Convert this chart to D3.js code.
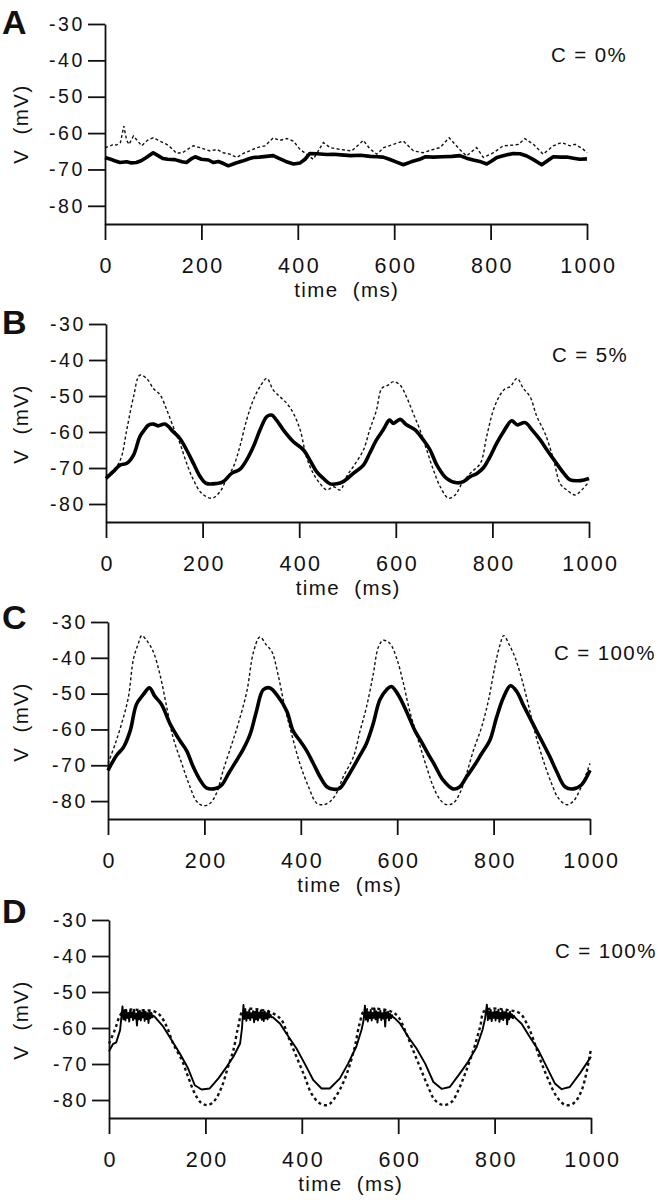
<!DOCTYPE html>
<html><head><meta charset="utf-8">
<script src="https://cdn.jsdelivr.net/npm/d3@7"></script>
<style>
body{margin:0;background:#fff}
svg{display:block}
text{font-family:"Liberation Sans",Arial,Helvetica,sans-serif;fill:#111}
</style>
</head><body>
<svg id="chart" width="660" height="1200"></svg>
<script>
// ---------- labels / ticks ----------
const panelLetters = ["A", "B", "C", "D"];
const contrastLabels = ["C = 0%", "C = 5%", "C = 100%", "C = 100%"];
const xTicks = [0, 200, 400, 600, 800, 1000];
const yTicks = [-30, -40, -50, -60, -70, -80];
const xLabel = "time\u00a0 (ms)";
const yLabel = "V\u00a0 (mV)";

// ---------- data: [time ms, V mV] ----------
const aSolid = [[0,-66.7],[10,-67.1],[20,-67.6],[31,-68.1],[45,-67.9],[55,-68.2],[65,-68.1],[75,-67.6],[85,-66.8],[100,-65.4],[110,-66.2],[120,-67.0],[130,-67.2],[145,-67.3],[160,-67.9],[169,-68.1],[180,-67.0],[187,-66.5],[200,-67.2],[215,-67.4],[225,-68.1],[235,-67.8],[245,-68.3],[256,-69.0],[270,-68.3],[285,-67.7],[300,-67.0],[308,-66.7],[320,-66.6],[335,-66.4],[349,-66.2],[360,-66.9],[375,-67.8],[391,-68.5],[405,-68.2],[415,-67.2],[425,-65.6],[440,-65.7],[460,-65.9],[474,-65.8],[490,-66.0],[510,-66.2],[530,-66.1],[550,-66.4],[565,-66.5],[577,-66.6],[590,-67.2],[605,-68.0],[619,-68.7],[635,-67.9],[653,-67.2],[665,-66.5],[681,-66.6],[700,-66.5],[720,-66.4],[736,-66.2],[750,-66.9],[764,-67.4],[780,-67.9],[792,-68.5],[803,-67.6],[813,-66.7],[830,-66.1],[847,-65.6],[861,-65.7],[875,-66.3],[889,-67.3],[906,-68.7],[918,-67.6],[930,-66.5],[945,-66.6],[958,-66.6],[972,-66.9],[985,-67.2],[1000,-67.1]];
const aDotted = [[0,-64.0],[10,-63.6],[17,-63.1],[24,-63.3],[32,-62.6],[39,-58.1],[45,-62.0],[50,-63.1],[59,-60.8],[68,-62.2],[76,-63.5],[88,-62.0],[100,-61.3],[114,-62.2],[128,-63.1],[135,-63.8],[149,-65.6],[162,-65.3],[172,-64.4],[183,-63.5],[197,-64.0],[210,-64.6],[218,-64.9],[232,-64.5],[245,-65.4],[259,-65.8],[273,-66.7],[287,-65.6],[300,-64.9],[315,-64.0],[332,-63.5],[349,-61.3],[363,-62.0],[377,-61.5],[391,-62.2],[404,-64.4],[418,-65.8],[432,-67.2],[453,-62.6],[467,-64.0],[488,-64.5],[512,-64.9],[536,-62.0],[550,-64.4],[564,-65.8],[578,-64.0],[598,-63.1],[619,-62.2],[640,-64.9],[660,-65.4],[681,-64.5],[695,-64.0],[714,-61.3],[736,-64.5],[750,-66.3],[771,-64.0],[785,-66.7],[806,-65.4],[826,-63.5],[847,-63.3],[858,-63.1],[871,-61.5],[889,-63.1],[909,-65.8],[930,-63.5],[947,-62.6],[965,-63.5],[975,-63.1],[990,-64.2],[1000,-65.4]];

const bSolid = [[0,-72.9],[15,-71.0],[29,-69.2],[43,-68.7],[57,-66.4],[70,-61.3],[80,-59.3],[88,-58.1],[98,-57.8],[108,-58.3],[122,-57.8],[139,-59.9],[153,-61.8],[167,-65.0],[181,-68.7],[195,-72.4],[208,-74.3],[229,-74.3],[243,-73.8],[260,-71.5],[277,-70.4],[291,-67.8],[305,-64.1],[319,-59.4],[333,-55.7],[343,-55.3],[353,-56.7],[367,-59.4],[388,-62.7],[409,-65.0],[422,-67.8],[436,-71.0],[450,-72.9],[464,-74.4],[478,-74.4],[491,-73.8],[512,-71.5],[533,-69.2],[546,-65.9],[560,-62.2],[574,-59.4],[587,-56.7],[595,-57.6],[609,-56.5],[622,-58.0],[640,-59.4],[657,-62.2],[671,-65.0],[685,-69.2],[705,-72.9],[726,-74.1],[740,-73.8],[754,-72.4],[768,-71.5],[781,-70.0],[795,-66.9],[809,-63.1],[823,-59.9],[840,-56.9],[851,-58.0],[868,-57.4],[882,-59.4],[899,-62.2],[913,-65.0],[930,-68.2],[948,-71.5],[961,-73.3],[982,-73.5],[1000,-72.9]];
const bDotted = [[0,-72.4],[22,-69.6],[32,-66.9],[43,-59.4],[57,-50.2],[70,-44.2],[84,-45.1],[98,-47.9],[112,-49.7],[126,-53.9],[139,-58.5],[153,-63.1],[167,-68.7],[181,-73.3],[198,-77.0],[219,-78.4],[236,-76.6],[250,-72.9],[264,-69.6],[277,-64.1],[291,-56.7],[305,-51.1],[319,-47.4],[333,-45.1],[346,-48.3],[360,-50.2],[374,-52.0],[388,-54.8],[402,-59.4],[415,-66.9],[429,-71.5],[443,-74.3],[457,-76.1],[471,-75.2],[485,-76.1],[498,-72.4],[512,-69.6],[533,-65.0],[546,-59.4],[560,-53.9],[571,-47.9],[584,-47.0],[595,-46.0],[609,-47.0],[622,-50.2],[636,-54.8],[650,-59.4],[664,-65.0],[678,-70.6],[692,-75.2],[709,-78.4],[723,-77.5],[737,-74.3],[754,-71.5],[775,-68.7],[788,-61.3],[802,-53.9],[816,-49.7],[827,-47.9],[837,-47.4],[851,-45.1],[864,-47.9],[878,-50.2],[892,-55.7],[909,-60.4],[927,-67.8],[940,-74.3],[954,-76.1],[971,-77.5],[985,-76.1],[1000,-73.8]];

const cSolid = [[0,-71.4],[18,-67.2],[32,-65.0],[46,-60.4],[59,-53.0],[73,-50.3],[86,-48.4],[97,-50.7],[111,-53.0],[129,-58.5],[149,-63.1],[163,-65.9],[177,-70.5],[191,-74.1],[205,-76.4],[225,-76.4],[236,-75.5],[250,-72.3],[267,-68.6],[281,-65.4],[295,-61.3],[308,-54.9],[322,-48.9],[336,-48.4],[350,-50.3],[371,-54.9],[384,-60.4],[398,-63.1],[412,-65.9],[426,-69.5],[440,-73.2],[454,-76.0],[468,-76.7],[481,-76.4],[495,-73.7],[509,-70.5],[523,-67.2],[536,-64.0],[550,-58.5],[564,-51.7],[578,-48.9],[588,-48.0],[602,-50.3],[619,-54.9],[637,-60.4],[651,-63.6],[664,-66.8],[678,-70.0],[695,-74.1],[716,-76.6],[730,-76.0],[744,-73.2],[758,-70.5],[775,-66.8],[792,-63.1],[806,-56.7],[820,-51.2],[835,-47.8],[848,-49.4],[861,-53.0],[875,-56.7],[889,-60.4],[903,-64.0],[917,-67.7],[931,-71.8],[948,-76.0],[965,-76.6],[982,-75.5],[1000,-71.4]];
const cDotted = [[0,-69.5],[15,-64.0],[28,-58.5],[42,-51.2],[53,-40.2],[63,-36.0],[70,-33.8],[80,-35.1],[94,-38.3],[108,-44.8],[122,-53.9],[135,-62.2],[153,-69.5],[170,-76.0],[184,-80.1],[198,-81.3],[212,-80.6],[225,-77.8],[239,-71.4],[257,-64.0],[270,-58.5],[288,-49.4],[302,-38.3],[315,-34.2],[329,-36.5],[340,-38.3],[353,-44.8],[367,-53.9],[381,-61.3],[398,-69.5],[416,-76.0],[433,-80.6],[447,-81.0],[461,-80.1],[474,-77.8],[488,-73.2],[509,-67.7],[523,-60.4],[536,-53.9],[550,-44.8],[561,-37.0],[571,-35.1],[585,-36.0],[599,-40.2],[612,-46.6],[626,-54.9],[644,-63.1],[661,-70.5],[675,-76.0],[689,-79.6],[702,-81.0],[716,-80.6],[730,-77.8],[744,-72.3],[758,-65.9],[775,-59.4],[789,-52.1],[802,-42.9],[813,-36.5],[821,-33.8],[833,-36.5],[844,-39.7],[858,-45.7],[872,-53.0],[885,-60.4],[903,-68.6],[920,-75.0],[934,-79.1],[951,-81.0],[965,-80.1],[979,-76.9],[1000,-69.5]];

const dSolidSmooth = [[0,-66.5],[8,-64.5],[15,-64.0],[23,-60.6],[95,-56.9],[113,-59.7],[130,-63.4],[147,-67.1],[164,-71.2],[178,-75.9],[192,-77.1],[209,-76.8],[227,-74.0],[244,-70.8],[258,-68.0],[272,-64.3],[276,-60.0],[340,-57.0],[355,-58.8],[368,-61.5],[389,-65.7],[406,-69.9],[424,-74.5],[441,-76.8],[458,-76.8],[479,-74.0],[496,-69.9],[513,-65.2],[524,-60.5],[528,-58.0],[592,-57.2],[604,-58.8],[621,-62.5],[638,-65.7],[656,-69.9],[673,-75.0],[690,-76.9],[707,-76.4],[728,-72.6],[745,-69.4],[763,-65.2],[775,-60.5],[780,-57.5],[843,-57.2],[856,-58.8],[873,-62.5],[891,-66.2],[908,-70.8],[925,-75.4],[939,-77.0],[956,-76.4],[977,-72.6],[1000,-68.0]];
// noisy spiking plateaus (2 ms sampling), start times
const dPlateauStarts = [28, 279, 531, 784];
const dPlateau1 = [-54.0,-57.6,-55.3,-57.9,-55.0,-57.2,-55.8,-58.2,-55.1,-57.0,-55.6,-57.8,-54.9,-57.4,-56.0,-59.3,-55.4,-57.6,-55.2,-57.9,-55.7,-57.1,-55.0,-58.0,-55.5,-57.5,-55.9,-58.6,-55.3,-57.3,-55.8,-57.0,-56.6];
const dPlateau2 = [-53.6,-57.5,-55.2,-58.0,-55.6,-57.3,-55.0,-57.8,-55.9,-57.1,-55.3,-58.4,-55.5,-57.6,-54.8,-57.9,-55.7,-57.2,-55.1,-57.7,-55.6,-58.1,-55.4,-57.4,-55.9,-57.6,-55.2,-57.1,-56.3,-57.0];
const dPlateau3 = [-53.8,-57.7,-55.1,-58.2,-55.6,-57.3,-55.0,-57.9,-55.8,-57.2,-54.6,-57.6,-55.4,-58.5,-55.7,-57.1,-55.2,-57.8,-55.9,-57.4,-55.3,-59.6,-55.6,-57.2,-55.5,-57.9,-56.0,-57.3,-56.4,-57.0];
const dPlateau4 = [-53.5,-57.8,-55.3,-57.4,-55.0,-58.1,-55.7,-57.2,-55.2,-57.9,-55.5,-57.3,-54.9,-58.3,-55.8,-57.5,-55.1,-57.8,-55.6,-57.2,-55.4,-59.0,-55.9,-57.6,-55.5,-57.1,-56.2,-57.3,-56.6];
const dDotted = [[0,-64.3],[12,-60.6],[23,-56.5],[33,-55.1],[71,-55.1],[92,-55.3],[106,-56.5],[120,-59.7],[133,-64.3],[151,-68.9],[164,-73.5],[178,-78.2],[192,-80.9],[206,-81.4],[220,-80.0],[234,-76.3],[247,-70.8],[258,-66.2],[268,-59.7],[279,-55.1],[313,-54.9],[341,-56.0],[358,-57.8],[372,-62.5],[389,-68.0],[406,-73.5],[420,-78.2],[437,-80.9],[454,-81.4],[468,-79.5],[482,-76.3],[496,-71.7],[510,-65.2],[520,-58.8],[531,-55.1],[583,-55.3],[600,-56.9],[614,-60.6],[628,-65.2],[645,-70.8],[662,-76.3],[676,-80.0],[694,-81.4],[711,-80.5],[725,-77.2],[739,-72.6],[756,-66.2],[770,-59.7],[780,-55.1],[832,-55.1],[853,-56.0],[867,-58.8],[881,-63.4],[895,-68.9],[912,-74.5],[929,-79.1],[947,-81.4],[964,-80.9],[981,-77.2],[1000,-65.7]];

// ---------- assemble D solid ----------
const dPlateaus = [dPlateau1, dPlateau2, dPlateau3, dPlateau4];
const dSolid = dSolidSmooth.concat(
  ...dPlateaus.map((vals, k) => vals.map((v, i) => [dPlateauStarts[k] + 2 * i, v]))
).sort((a, b) => a[0] - b[0]);

// ---------- layout (pixel positions) ----------
const layout = [
  {top: 24,  bottom: 224,  x0: 105, x1: 587, letterY: 34},
  {top: 324, bottom: 522,  x0: 106, x1: 589, letterY: 334},
  {top: 622, bottom: 819,  x0: 108, x1: 590, letterY: 629},
  {top: 920, bottom: 1118, x0: 109, x1: 591, letterY: 923}
];
const solids = [aSolid, bSolid, cSolid, dSolid];
const dotteds = [aDotted, bDotted, cDotted, dDotted];
const styles = [
  {solidW: 3.6, dotW: 1.4, dash: "3,2.4", solidCurve: d3.curveLinear, dotCurve: d3.curveLinear},
  {solidW: 3.6, dotW: 1.4, dash: "3,2.4", solidCurve: d3.curveCatmullRom.alpha(0.5), dotCurve: d3.curveCatmullRom.alpha(0.5)},
  {solidW: 3.6, dotW: 1.4, dash: "3,2.4", solidCurve: d3.curveCatmullRom.alpha(0.5), dotCurve: d3.curveCatmullRom.alpha(0.5)},
  {solidW: 1.9, dotW: 2.4, dash: "3,3",   solidCurve: d3.curveLinear, dotCurve: d3.curveCatmullRom.alpha(0.5)}
];

const FONT = '"Liberation Sans",Arial,Helvetica,sans-serif';
const svg = d3.select("#chart");

layout.forEach((L, i) => {
  const x = d3.scaleLinear().domain([0, 1000]).range([L.x0, L.x1]);
  const y = d3.scaleLinear().domain([-85, -30]).range([L.bottom, L.top]);
  const g = svg.append("g");

  // y axis
  const yAxis = d3.axisLeft(y).tickValues(yTicks).tickSize(17).tickSizeOuter(0).tickPadding(3)
    .tickFormat(d => String(d));
  const gy = g.append("g").attr("transform", `translate(${L.x0},0)`).call(yAxis)
    .attr("font-family", FONT).attr("font-size", 19.5);
  gy.select(".domain").attr("stroke", "#111").attr("stroke-width", 1.8);
  gy.selectAll(".tick line").attr("stroke", "#111").attr("stroke-width", 1.8);
  gy.selectAll(".tick text").style("font-size", "19.5px").style("letter-spacing", "2.6px").attr("fill", "#111");

  // x axis
  const xAxis = d3.axisBottom(x).tickValues(xTicks).tickSize(16).tickSizeOuter(0).tickPadding(18)
    .tickFormat(d => String(d));
  const gx = g.append("g").attr("transform", `translate(0,${L.bottom})`).call(xAxis)
    .attr("font-family", FONT).attr("font-size", 21.5);
  gx.select(".domain").attr("stroke", "#111").attr("stroke-width", 1.8);
  gx.selectAll(".tick line").attr("stroke", "#111").attr("stroke-width", 1.8);
  gx.selectAll(".tick text").style("font-size", "21.5px").style("letter-spacing", "2.3px").attr("dx", 1.2).attr("fill", "#111");

  // axis titles
  g.append("text").attr("x", (L.x0 + L.x1) / 2 + 0.75).attr("y", L.bottom + 73)
    .attr("text-anchor", "middle").style("font-size", "20.5px").style("letter-spacing", "1.4px").text(xLabel);
  g.append("text").attr("transform", `translate(28,${L.top + 100}) rotate(-90)`)
    .attr("text-anchor", "middle").style("font-size", "20.5px").style("letter-spacing", "1.4px").text(yLabel);

  // panel letter
  g.append("text").attr("x", 2).attr("y", L.letterY).style("font-size", "34px").style("font-weight", "bold")
    .text(panelLetters[i]);

  // contrast label
  g.append("text").attr("x", L.x0 + 446).attr("y", L.top + 38).style("font-size", "20.5px")
    .style("letter-spacing", "1.4px").text(contrastLabels[i]);

  const st = styles[i];
  const lineS = d3.line().x(d => x(d[0])).y(d => y(d[1])).curve(st.solidCurve);
  const lineD = d3.line().x(d => x(d[0])).y(d => y(d[1])).curve(st.dotCurve);

  g.append("path").datum(dotteds[i]).attr("d", lineD).attr("fill", "none")
    .attr("stroke", "#111").attr("stroke-width", st.dotW).attr("stroke-dasharray", st.dash);
  g.append("path").datum(solids[i]).attr("d", lineS).attr("fill", "none")
    .attr("stroke", "#000").attr("stroke-width", st.solidW).attr("stroke-linejoin", "round");
});
</script>
</body></html>
